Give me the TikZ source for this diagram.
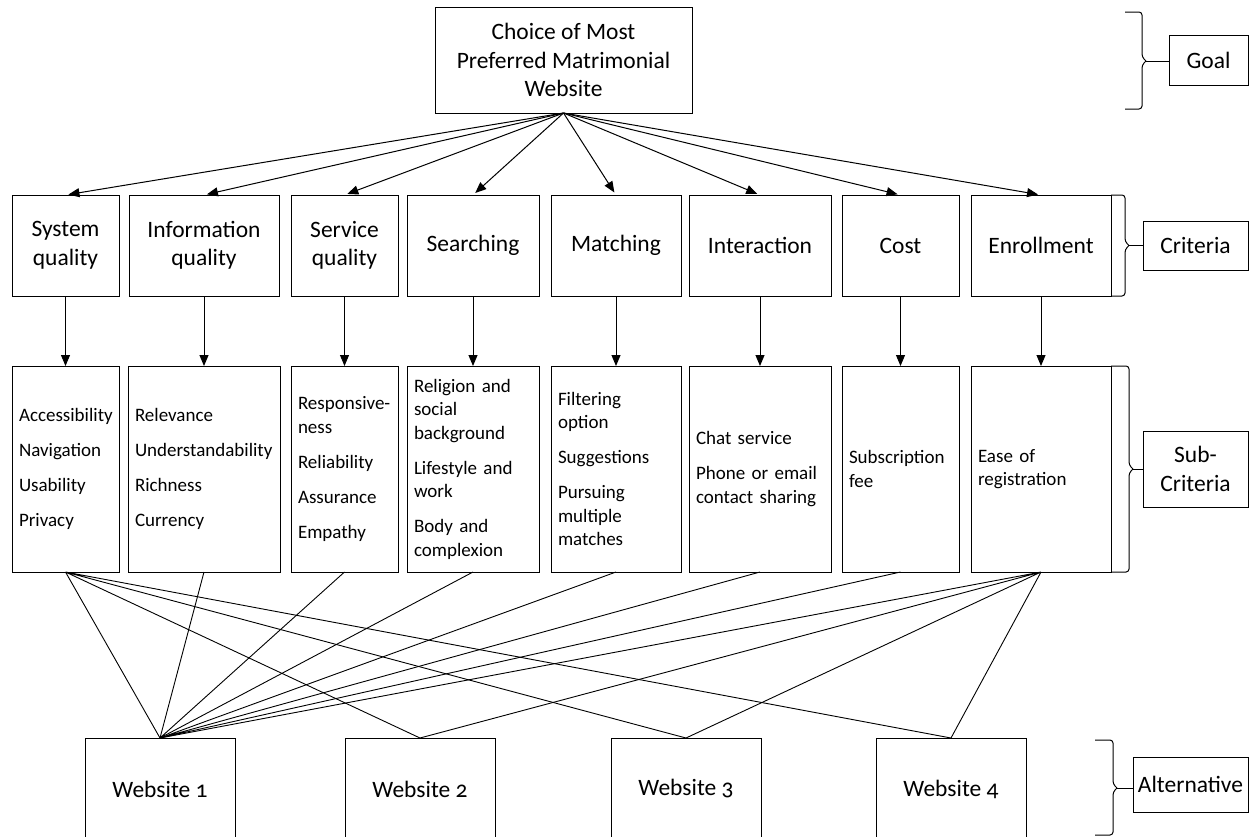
\documentclass[tikz,border=0pt]{standalone}
\usepackage{fontspec}
\setmainfont{Carlito}[Numbers=OldStyle]
\usetikzlibrary{arrows.meta,positioning}
\hyphenpenalty=10000

\begin{document}
\begin{tikzpicture}[
  x=1pt, y=1pt,
  box/.style={draw, line width=1pt, outer sep=0pt, align=center, inner sep=1pt, font=\fontsize{23.5}{28.5}\selectfont},
  crit/.style={box, minimum height=101pt},
  sub/.style={draw, line width=1pt, outer sep=0pt, align=left, inner xsep=7pt, inner ysep=0pt, minimum height=206pt, font=\fontsize{19}{23.5}\selectfont},
  alt/.style={box, minimum width=150pt, minimum height=102pt},
  arr/.style={-{Triangle[length=11pt,width=9pt]}, line width=1pt},
  link/.style={line width=0.9pt},
  lvl/.style={line width=1pt, rounded corners=3pt}
]
\useasboundingbox (0,0) rectangle (1249,-836);

% goal
\node[box, minimum width=257pt, minimum height=106pt] (goal) at (563.5,-60) {Choice of Most\\Preferred Matrimonial\\Website};

% criteria
\node[crit, minimum width=107pt] (sysq) at (65.5,-245.5) {System\\quality};
\node[crit, minimum width=150pt, right=10pt of sysq] (infq) {Information\\quality};
\node[crit, minimum width=107pt, right=12pt of infq] (servq) {Service\\quality};
\node[crit, minimum width=132pt, right=9pt of servq] (srch) {Searching};
\node[crit, minimum width=130pt, right=12pt of srch] (mtch) {Matching};
\node[crit, minimum width=142pt, right=8pt of mtch] (intr) {Interaction};
\node[crit, minimum width=117pt, right=11pt of intr] (cost) {Cost};
\node[crit, minimum width=140pt, right=12pt of cost] (enrl) {Enrollment};

% sub-criteria
\node[sub, text width=93pt, below=70pt of sysq] (sysqs) {Accessibility\\[11.5pt]Navigation\\[11.5pt]Usability\\[11.5pt]Privacy};
\node[sub, text width=138pt, below=70pt of infq] (infqs) {Relevance\\[11.5pt]Understandability\\[11.5pt]Richness\\[11.5pt]Currency};
\node[sub, text width=93pt, below=70pt of servq] (servqs) {Responsive-\\ness\\[11.5pt]Reliability\\[11.5pt]Assurance\\[11.5pt]Empathy};
\node[sub, text width=118pt, below=70pt of srch] (srchs) {Religion and\\social\\background\\[11.5pt]Lifestyle and\\work\\[11.5pt]Body and\\complexion};
\node[sub, text width=116pt, below=70pt of mtch] (mtchs) {Filtering\\option\\[11.5pt]Suggestions\\[11.5pt]Pursuing\\multiple\\matches};
\node[sub, text width=128pt, below=70pt of intr] (intrs) {Chat service\\[11.5pt]Phone or email\\contact sharing};
\node[sub, text width=103pt, below=70pt of cost] (costs) {Subscription\\fee};
\node[sub, text width=126pt, below=70pt of enrl] (enrls) {Ease of\\registration};

% alternatives
\node[alt] (web1) at (160,-789) {Website 1};
\node[alt, right=110pt of web1] (web2) {Website 2};
\node[alt, right=116pt of web2] (web3) {Website 3};
\node[alt, right=115pt of web3] (web4) {Website 4};

% level labels
\node[box, minimum width=79pt, minimum height=50pt, right=477pt of goal] (goallbl) {Goal};
\node[box, minimum width=105pt, minimum height=49pt, right=32pt of enrl] (critlbl) {Criteria};
\node[box, minimum width=105pt, minimum height=76pt, right=32pt of enrls] (sublbl) {Sub-\\Criteria};
\node[box, minimum width=115pt, minimum height=55pt, right=107pt of web4, yshift=4.5pt] (altlbl) {Alternative};

% goal -> criteria
\draw[arr, shorten >=3pt] (goal.south) -- (sysq.north);
\draw[arr, shorten >=3pt] (goal.south) -- (infq.north);
\draw[arr, shorten >=3pt] (goal.south) -- (servq.north);
\draw[arr, shorten >=3pt] (goal.south) -- (srch.north);
\draw[arr, shorten >=3pt] (goal.south) -- (mtch.north);
\draw[arr, shorten >=3pt] (goal.south) -- (intr.north);
\draw[arr, shorten >=3pt] (goal.south) -- (cost.north);
\draw[arr, shorten >=3pt] (goal.south) -- (enrl.north);

% criteria -> sub-criteria
\draw[arr] (sysq) -- (sysqs);
\draw[arr] (infq) -- (infqs);
\draw[arr] (servq) -- (servqs);
\draw[arr] (srch) -- (srchs);
\draw[arr] (mtch) -- (mtchs);
\draw[arr] (intr) -- (intrs);
\draw[arr] (cost) -- (costs);
\draw[arr] (enrl) -- (enrls);

% sub-criteria -- alternatives
\draw[link] (sysqs.south) -- (web1.north) (sysqs.south) -- (web2.north) (sysqs.south) -- (web3.north) (sysqs.south) -- (web4.north);
\draw[link] (infqs.south) -- (web1.north) (servqs.south) -- (web1.north) (srchs.south) -- (web1.north);
\draw[link] (mtchs.south) -- (web1.north) (intrs.south) -- (web1.north) (costs.south) -- (web1.north);
\draw[link] (enrls.south) -- (web1.north) (enrls.south) -- (web2.north) (enrls.south) -- (web3.north) (enrls.south) -- (web4.north);

% braces
\coordinate (gtip) at (1146,-61);
\draw[lvl] (gtip) -- ++(-4,4) |- (1125,-12) (gtip) -- ++(-4,-4) |- (1125,-109);
\draw[lvl] (gtip) -- (gtip -| goallbl.west);
\coordinate (ctip) at (1129,-245.5);
\draw[lvl] (ctip) -- ++(-4,4) |- (enrl.north east) (ctip) -- ++(-4,-4) |- (enrl.south east);
\draw[lvl] (ctip) -- (critlbl.west);
\coordinate (stip) at (1133,-469);
\draw[lvl] (stip) -- ++(-4,4) |- (enrls.north east) (stip) -- ++(-4,-4) |- (enrls.south east);
\draw[lvl] (stip) -- (stip -| sublbl.west);
\coordinate (atip) at (1117,-788);
\draw[lvl] (atip) -- ++(-4,4) |- (1095,-740) (atip) -- ++(-4,-4) |- (1095,-835);
\draw[lvl] (atip) -- (atip -| altlbl.west);
\end{tikzpicture}
\end{document}
